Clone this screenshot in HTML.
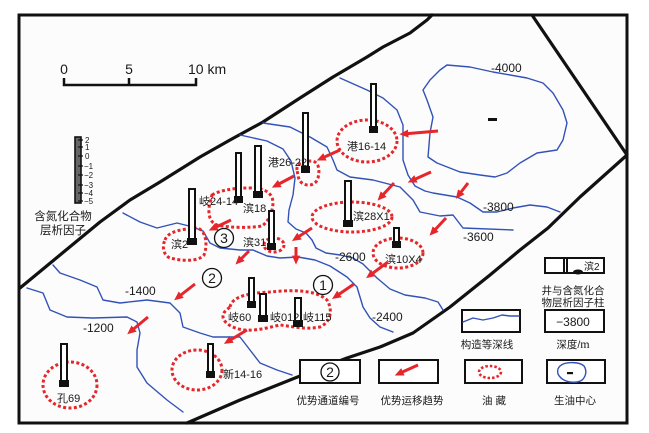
<!DOCTYPE html>
<html><head><meta charset="utf-8"><style>
html,body{margin:0;padding:0;background:#fff;}
svg{display:block;}
text{font-family:"Liberation Sans","Noto Sans CJK SC",sans-serif;fill:#1a1a1a;}
.c{fill:none;stroke:#3252b8;stroke-width:1.4;stroke-linejoin:round;stroke-linecap:round;}
.f{fill:none;stroke:#111;stroke-width:3.2;stroke-linejoin:round;stroke-linecap:round;}
.r{fill:none;stroke:#e5262a;stroke-width:3;stroke-dasharray:3 2.4;}
.a{stroke:#e5262a;stroke-width:3;marker-end:url(#ah);}
.w{fill:#fff;stroke:#111;stroke-width:2;}
.wb{fill:#111;}
.lb{font-size:11px;}
.ct{font-size:12px;}
.cap{font-size:10.5px;}
.box{fill:#fff;stroke:#111;stroke-width:2;}
</style></head><body>
<svg width="649" height="433" viewBox="0 0 649 433" xmlns="http://www.w3.org/2000/svg">
<defs>
<marker id="ah" viewBox="0 0 10 10" refX="6" refY="5" markerWidth="9" markerHeight="9" markerUnits="userSpaceOnUse" orient="auto">
<path d="M0,0.5 L10,5 L0,9.5 Z" fill="#e5262a"/>
</marker>
</defs>

<!-- frame -->
<rect x="19" y="15" width="608" height="408" fill="#fcfcfc" stroke="#111" stroke-width="3"/>

<!-- fault lines -->
<polyline class="f" points="20,288 60,255 100,222 130,200 160,182 200,157 230,140 263,122 300,98 333,77 367,57 383,47 410,33 427,20 432,15"/>
<polyline class="f" points="532,15 627,155 580,197 548,228 520,250 490,275 450,307 413,333 380,347 347,358 300,376 240,400 187,423"/>

<!-- scale bar -->
<text x="64" y="74" font-size="14" text-anchor="middle">0</text>
<text x="129" y="74" font-size="14" text-anchor="middle">5</text>
<text x="188" y="74" font-size="14">10 km</text>
<polyline points="64,78 64,85 196,85 196,78" fill="none" stroke="#111" stroke-width="2.5"/>
<line x1="129" y1="78" x2="129" y2="85" stroke="#111" stroke-width="2.5"/>

<!-- factor scale legend -->
<rect x="75" y="137" width="6" height="66" fill="#666" stroke="#111" stroke-width="1.6"/>
<g stroke="#111" stroke-width="1.2">
<line x1="78" y1="140" x2="83" y2="140"/><line x1="78" y1="147" x2="83" y2="147"/>
<line x1="78" y1="156" x2="83" y2="156"/><line x1="78" y1="166" x2="83" y2="166"/>
<line x1="78" y1="175" x2="83" y2="175"/><line x1="78" y1="185" x2="83" y2="185"/>
<line x1="78" y1="193" x2="83" y2="193"/><line x1="78" y1="201" x2="83" y2="201"/>
</g>
<g font-size="8" style="font-family:'Liberation Serif',serif">
<text x="85" y="143">2</text><text x="85" y="150">1</text><text x="85" y="159">0</text>
<text x="84" y="169">−1</text><text x="84" y="178">−2</text><text x="84" y="188">−3</text>
<text x="84" y="196">−4</text><text x="84" y="204">−5</text>
</g>
<text x="63" y="220" font-size="11.5" text-anchor="middle">含氮化合物</text>
<text x="63" y="234" font-size="11.5" text-anchor="middle">层析因子</text>

<!-- contour lines -->
<polyline class="c" points="447,65 470,67 493,72 527,78 543,83 553,93 563,110 567,123 563,140 557,150 537,153 520,163 507,173 495,177 480,175 460,172 437,163 428,157 430,133 433,117 427,100 423,90 430,80 440,70 447,65"/>
<polyline class="c" points="340,78 367,90 383,98 397,110 403,125 403,145 403,160 408,175 415,186 425,191 433,193 457,197 470,203 483,212 497,212 513,208 530,205 547,207 560,212"/>
<polyline class="c" points="263,123 290,127 310,137 327,147 333,160 337,170 350,177 373,180 400,187 413,200 420,212 440,216 453,215 463,228 513,230"/>
<polyline class="c" points="240,135 267,141 283,149 291,161 295,178 293,195 289,210 288,222 296,229 306,233 312,240 316,248 326,253 340,255 353,258 363,264 377,278 390,289 405,295 425,298 438,302 443,310"/>
<polyline class="c" points="123,213 140,222 157,228 177,223 193,227 203,231 210,243 220,248 240,250 253,250 267,256 280,258 298,257 315,260 330,266 347,277 357,287 363,307 370,318 380,327 393,332"/>
<polyline class="c" points="53,265 60,273 80,280 97,287 103,300 120,303 147,300 170,303 180,313 183,327 200,333 213,337 233,337 240,337 250,350 260,363 277,370 292,375"/>
<polyline class="c" points="27,288 43,293 50,310 67,317 93,318 127,317 137,322 140,333 137,350 137,367 147,383 167,400 183,412"/>

<!-- contour labels -->
<text class="ct" x="491" y="72">-4000</text>
<text class="ct" x="483" y="211">-3800</text>
<text class="ct" x="463" y="241">-3600</text>
<text class="ct" x="335" y="261">-2600</text>
<text class="ct" x="372" y="321">-2400</text>
<text class="ct" x="125" y="295">-1400</text>
<text class="ct" x="83" y="332">-1200</text>
<rect x="488" y="118" width="9" height="3" fill="#111"/>

<!-- reservoirs (dotted) -->
<ellipse class="r" cx="367" cy="141" rx="30" ry="21"/>
<path class="r" d="M297,170 C296,163 304,161 312,161 C319,162 320,170 318,178 C316,185 308,187 302,183 C298,180 298,175 297,170 Z"/>
<path class="r" d="M212,195 C220,190 235,188 250,188 C262,188 272,191 273,202 C273,212 268,222 262,226 C250,228 230,228 217,225 C208,222 208,210 210,203 Z"/>
<ellipse class="r" cx="274" cy="245" rx="10" ry="7"/>
<path class="r" d="M165,240 C168,231 183,229 197,228 C206,230 208,245 204,255 C198,262 182,261 170,258 C163,255 162,246 165,240 Z"/>
<ellipse class="r" cx="352" cy="217" rx="40" ry="15"/>
<ellipse class="r" cx="398" cy="253" rx="25" ry="15"/>
<path class="r" d="M230,307 C232,296 250,293 270,292 C290,290 315,289 327,300 C333,310 331,322 320,327 C305,330 290,326 280,325 C270,327 258,331 245,330 C232,329 222,322 223,315 C224,311 228,309 230,307 Z"/>
<ellipse class="r" cx="197" cy="370" rx="25" ry="20"/>
<ellipse class="r" cx="70" cy="385" rx="27" ry="23"/>

<!-- wells -->
<g>
<rect class="w" x="371" y="84" width="5" height="48"/><rect class="wb" x="369" y="126" width="9" height="7"/>
<rect class="w" x="303" y="113" width="5" height="59"/><rect class="wb" x="301" y="166" width="9" height="7"/>
<rect class="w" x="255" y="146" width="6" height="51"/><rect class="wb" x="253" y="191" width="10" height="7"/>
<rect class="w" x="236" y="153" width="5" height="49"/><rect class="wb" x="234" y="196" width="9" height="7"/>
<rect class="w" x="269" y="211" width="5" height="38"/><rect class="wb" x="267" y="243" width="9" height="7"/>
<rect class="w" x="189" y="189" width="6" height="55"/><rect class="wb" x="187" y="238" width="10" height="7"/>
<rect class="w" x="345" y="181" width="6" height="45"/><rect class="wb" x="343" y="220" width="10" height="7"/>
<rect class="w" x="394" y="228" width="5" height="19"/><rect class="wb" x="392" y="241" width="9" height="7"/>
<rect class="w" x="249" y="278" width="5" height="29"/><rect class="wb" x="247" y="301" width="9" height="7"/>
<rect class="w" x="260" y="294" width="6" height="27"/><rect class="wb" x="258" y="315" width="10" height="7"/>
<rect class="w" x="295" y="298" width="6" height="28"/><rect class="wb" x="293" y="320" width="10" height="7"/>
<rect class="w" x="208" y="344" width="5" height="33"/><rect class="wb" x="206" y="371" width="9" height="7"/>
<rect class="w" x="61" y="344" width="6" height="42"/><rect class="wb" x="59" y="380" width="10" height="7"/>
</g>

<!-- well labels -->
<text class="lb" x="347" y="150">港16-14</text>
<text class="lb" x="268" y="166">港26-22</text>
<text class="lb" x="243" y="212">滨18</text>
<text class="lb" x="199" y="205">岐24-14</text>
<text class="lb" x="243" y="246">滨31</text>
<text class="lb" x="171" y="248">滨2</text>
<text class="lb" x="353" y="220">滨28X1</text>
<text class="lb" x="385" y="263">滨10X4</text>
<text class="lb" x="228" y="321">岐60</text>
<text class="lb" x="270" y="321">岐012</text>
<text class="lb" x="303" y="321">岐115</text>
<text class="lb" x="223" y="378">新14-16</text>
<text class="lb" x="57" y="402">孔69</text>

<!-- arrows -->
<line class="a" x1="438" y1="131" x2="403" y2="134"/>
<line class="a" x1="340" y1="150" x2="320" y2="159"/>
<line class="a" x1="294" y1="176" x2="275" y2="186"/>
<line class="a" x1="231" y1="220" x2="212" y2="229"/>
<line class="a" x1="312" y1="228" x2="295" y2="239"/>
<line class="a" x1="394" y1="183" x2="380" y2="198"/>
<line class="a" x1="431" y1="172" x2="411" y2="181"/>
<line class="a" x1="468" y1="183" x2="458" y2="196"/>
<line class="a" x1="446" y1="218" x2="432" y2="233"/>
<line class="a" x1="296" y1="247" x2="296" y2="261"/>
<line class="a" x1="249" y1="251" x2="238" y2="262"/>
<line class="a" x1="195" y1="284" x2="177" y2="298"/>
<line class="a" x1="148" y1="317" x2="130" y2="332"/>
<line class="a" x1="388" y1="262" x2="369" y2="276"/>
<line class="a" x1="354" y1="284" x2="335" y2="297"/>
<line class="a" x1="247" y1="330" x2="227" y2="342"/>

<!-- circled numbers -->
<g fill="none" stroke="#111" stroke-width="1.3">
<circle cx="323" cy="285" r="9.5"/><circle cx="212" cy="278" r="9.5"/><circle cx="224" cy="238" r="9.5"/>
</g>
<text x="323" y="290" font-size="14" text-anchor="middle">1</text>
<text x="212" y="283" font-size="14" text-anchor="middle">2</text>
<text x="224" y="243" font-size="14" text-anchor="middle">3</text>

<!-- legend boxes -->
<rect class="box" x="545" y="258" width="59" height="15"/>
<rect x="563" y="258" width="5" height="15" fill="#111"/>
<line x1="565.5" y1="259" x2="565.5" y2="272" stroke="#fff" stroke-width="1"/>
<ellipse cx="578" cy="272" rx="5" ry="2.5" fill="#111"/>
<text x="584" y="270" font-size="10">滨2</text>
<text class="cap" x="573" y="294" text-anchor="middle">井与含氮化合</text>
<text class="cap" x="573" y="306" text-anchor="middle">物层析因子柱</text>

<rect class="box" x="462" y="310" width="58" height="22"/>
<polyline class="c" points="463,322 473,318 483,320 493,318 502,315 510,316 519,316"/>
<text class="cap" x="487" y="348" text-anchor="middle">构造等深线</text>

<rect class="box" x="545" y="310" width="59" height="22"/>
<text x="573" y="326" font-size="12" text-anchor="middle">−3800</text>
<text class="cap" x="573" y="348" text-anchor="middle">深度/<tspan style="font-family:'Liberation Serif',serif" font-size="12">m</tspan></text>

<rect class="box" x="300" y="360" width="60" height="23"/>
<circle cx="330" cy="372" r="9" fill="none" stroke="#111" stroke-width="1.3"/>
<text x="330" y="377" font-size="14" text-anchor="middle">2</text>
<text class="cap" x="328" y="404" text-anchor="middle">优势通道编号</text>

<rect class="box" x="379" y="360" width="59" height="23"/>
<line class="a" x1="418" y1="365" x2="398" y2="374"/>
<text class="cap" x="412" y="404" text-anchor="middle">优势运移趋势</text>

<rect class="box" x="465" y="360" width="57" height="23"/>
<ellipse cx="490" cy="372" rx="11" ry="6" fill="none" stroke="#e5262a" stroke-width="2.6" stroke-dasharray="2.5 2"/>
<text class="cap" x="494" y="404" text-anchor="middle">油 藏</text>

<rect class="box" x="547" y="360" width="58" height="23"/>
<path d="M560,366 C566,361 580,362 584,366 C588,372 585,381 577,382 C568,383 561,380 558,374 C557,370 558,368 560,366 Z" fill="none" stroke="#3252b8" stroke-width="1.4"/>
<rect x="567" y="372" width="6" height="2.2" fill="#111"/>
<text class="cap" x="575" y="404" text-anchor="middle">生油中心</text>
</svg>
</body></html>
